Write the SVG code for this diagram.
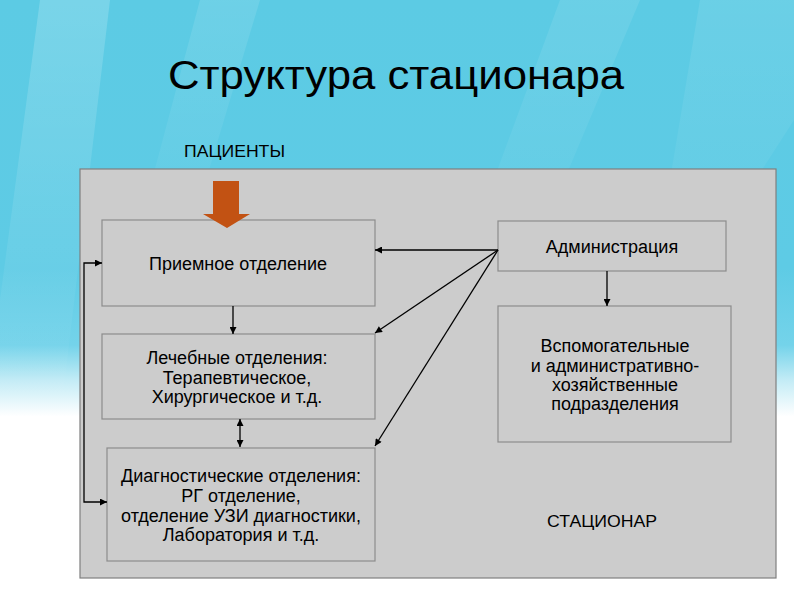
<svg xmlns="http://www.w3.org/2000/svg" width="794" height="595" viewBox="0 0 794 595">
  <defs>
    <linearGradient id="bg" x1="0" y1="0" x2="0" y2="1">
      <stop offset="0" stop-color="#5ccbe4"/>
      <stop offset="0.45" stop-color="#5ecbe5"/>
      <stop offset="0.58" stop-color="#74d3ea"/>
      <stop offset="0.64" stop-color="#c4ecf6"/>
      <stop offset="0.70" stop-color="#ffffff"/>
      <stop offset="1" stop-color="#ffffff"/>
    </linearGradient>
    <linearGradient id="streak" x1="0" y1="0" x2="0" y2="1">
      <stop offset="0" stop-color="#ffffff" stop-opacity="0.18"/>
      <stop offset="1" stop-color="#ffffff" stop-opacity="0"/>
    </linearGradient>
    <marker id="ah" viewBox="0 0 10 10" refX="10" refY="5" markerWidth="8" markerHeight="7" markerUnits="userSpaceOnUse" orient="auto-start-reverse">
      <path d="M0,0 L10,5 L0,10 Z" fill="#000"/>
    </marker>
    <style>
      .box { fill: #cccccc; stroke: #8c8c8c; stroke-width: 1.2; }
      .frame { fill: #cccccc; stroke: #7f7f7f; stroke-width: 1.2; }
      .t { font-family: "Liberation Sans", Arial, sans-serif; font-size: 18px; fill: #000; text-anchor: middle; }
      .conn { stroke: #000; stroke-width: 1.3; fill: none; }
    </style>
  </defs>

  <rect x="0" y="0" width="794" height="595" fill="url(#bg)"/>
  <polygon points="40,0 110,0 60,420 0,420 0,300" fill="url(#streak)"/>
  <polygon points="200,0 260,0 170,300 120,300" fill="url(#streak)" opacity="0.6"/>
  <polygon points="560,0 640,0 480,380 420,380" fill="url(#streak)" opacity="0.5"/>
  <polygon points="700,0 794,0 794,120 640,360" fill="url(#streak)" opacity="0.5"/>

  <text x="396" y="89" font-family="Liberation Sans, Arial, sans-serif" font-size="41" text-anchor="middle" textLength="456" lengthAdjust="spacingAndGlyphs" fill="#000">Структура стационара</text>
  <text x="184" y="157" font-family="Liberation Sans, Arial, sans-serif" font-size="16.5" textLength="101" lengthAdjust="spacingAndGlyphs" fill="#000">ПАЦИЕНТЫ</text>

  <g id="stacionar">
    <rect class="frame" x="80" y="169" width="696" height="409"/>
    <text x="602" y="527" font-family="Liberation Sans, Arial, sans-serif" font-size="16.5" text-anchor="middle" textLength="110" lengthAdjust="spacingAndGlyphs" fill="#000">СТАЦИОНАР</text>
  </g>

  <g id="priemnoe">
    <rect class="box" x="102" y="220" width="273" height="86"/>
    <text class="t" x="238" y="270">Приемное отделение</text>
  </g>

  <g id="patients-arrow">
    <polygon points="213,181 239,181 239,214 250,214 227,228 203,214 213,214" fill="#C25213"/>
  </g>

  <g id="lechebnye">
    <rect class="box" x="102" y="334" width="273" height="85"/>
    <text class="t" x="237" y="364">Лечебные отделения:</text>
    <text class="t" x="237" y="384">Терапевтическое,</text>
    <text class="t" x="237" y="403">Хирургическое и т.д.</text>
  </g>

  <g id="diagnosticheskie">
    <rect class="box" x="107" y="448" width="268" height="113"/>
    <text class="t" x="241" y="482">Диагностические отделения:</text>
    <text class="t" x="241" y="502">РГ отделение,</text>
    <text class="t" x="241" y="522">отделение УЗИ диагностики,</text>
    <text class="t" x="241" y="541">Лаборатория и т.д.</text>
  </g>

  <g id="administraciya">
    <rect class="box" x="498" y="221" width="228" height="50"/>
    <text class="t" x="612" y="253">Администрация</text>
  </g>

  <g id="vspomogatelnye">
    <rect class="box" x="498" y="306" width="233" height="136"/>
    <text class="t" x="615" y="352">Вспомогательные</text>
    <text class="t" x="615" y="372">и административно-</text>
    <text class="t" x="615" y="391">хозяйственные</text>
    <text class="t" x="615" y="410">подразделения</text>
  </g>

  <g id="connectors">
    <path class="conn" d="M102,263 H84 V502 H107" marker-start="url(#ah)" marker-end="url(#ah)"/>
    <path class="conn" d="M233,306 V334" marker-end="url(#ah)"/>
    <path class="conn" d="M240,419 V447" marker-start="url(#ah)" marker-end="url(#ah)"/>
    <path class="conn" d="M498,250 L375,250" marker-end="url(#ah)"/>
    <path class="conn" d="M498,250 L375,333" marker-end="url(#ah)"/>
    <path class="conn" d="M498,250 L375,446" marker-end="url(#ah)"/>
    <path class="conn" d="M607,271 V306" marker-end="url(#ah)"/>
  </g>
</svg>
